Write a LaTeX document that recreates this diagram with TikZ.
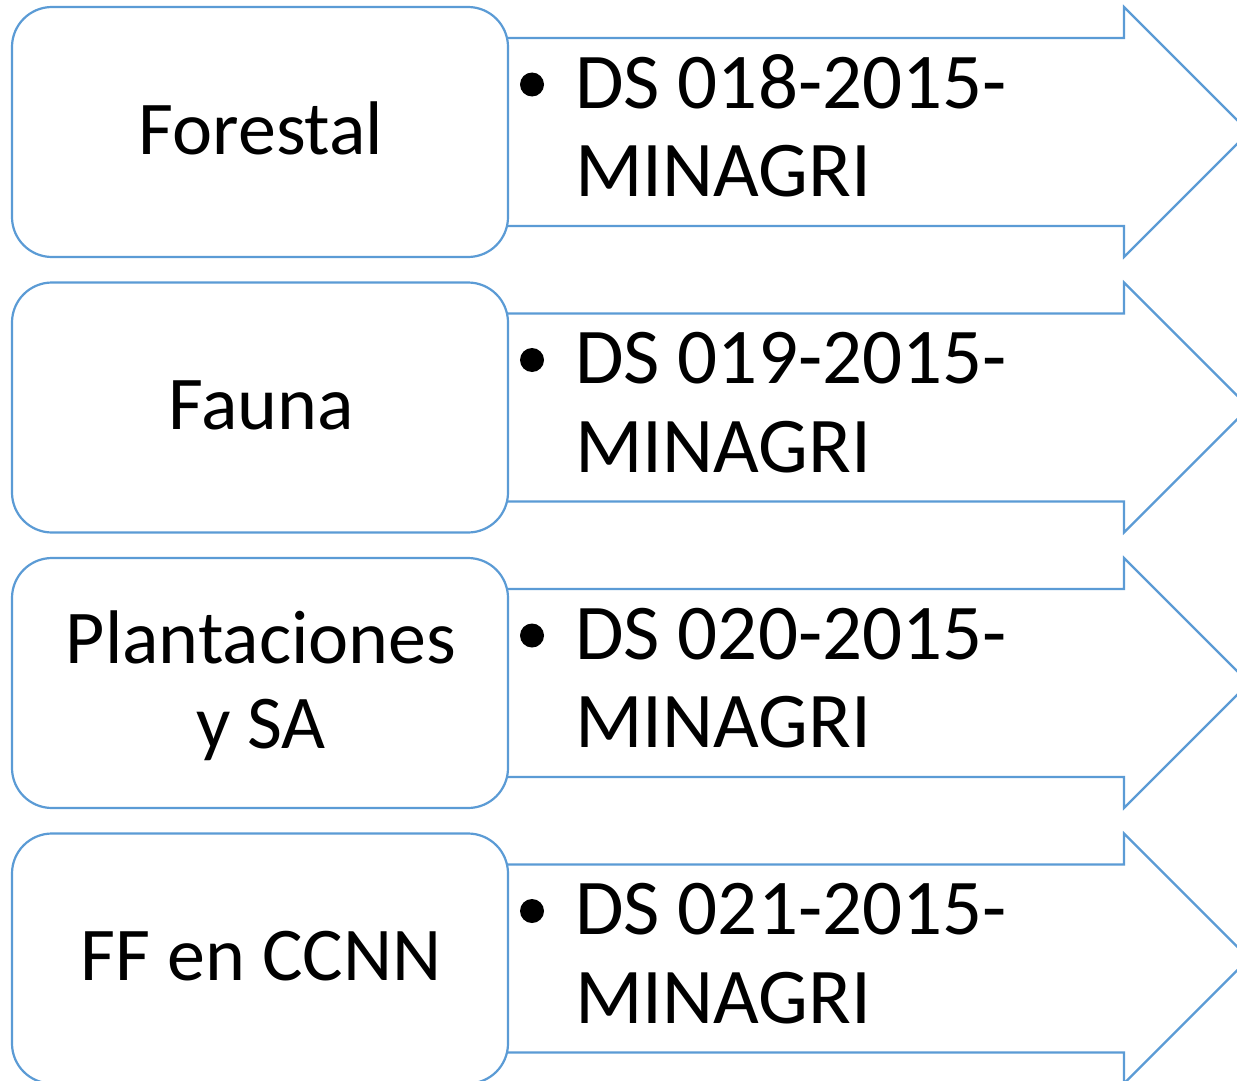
\documentclass[tikz,border=0pt]{standalone}
\usepackage{fontspec}
\setmainfont{Carlito}
\definecolor{edge}{RGB}{91,155,213}
\begin{document}
\begin{tikzpicture}[x=1pt,y=-1pt,
  box/.style={draw=edge,line width=2.2pt,fill=white,rounded corners=40pt},
  arr/.style={draw=edge,line width=2.2pt,fill=white,line join=miter},
  lbl/.style={font=\fontsize{76}{89}\selectfont,inner sep=0pt,anchor=base},
  rlbl/.style={font=\fontsize{79}{89}\selectfont,inner sep=0pt,anchor=base west},
  dot/.style={circle,fill=black,minimum size=24pt,inner sep=0pt}]
\useasboundingbox (0,0) rectangle (1237,1081);
\foreach \o in {0,275.5,551,826.5}{
  \draw[arr] (500,38+\o) -- (1124,38+\o) -- (1124,7+\o) -- (1249,132+\o) -- (1124,257+\o) -- (1124,226+\o) -- (500,226+\o);
  \draw[box] (12,7+\o) rectangle (508,257+\o);
}
% left labels
\node[lbl] (l1) at (261,154) {Forestal};
\node[lbl] (l2) at (261,429.5) {Fauna};
\node[lbl] (l3a) at (261,663) {Plantaciones};
\node[lbl] (l3b) at (261,748) {y SA};
\node[lbl] (l4) at (261,980.5) {FF en CCNN};
% right labels
\node[dot] (b1) at (532,84.5) {};
\node[rlbl] (d1) at (575,108) {DS 018-2015-};
\node[rlbl] (m1) at (575,196.5) {MINAGRI};
\node[dot] (b2) at (532,360) {};
\node[rlbl] (d2) at (575,383.5) {DS 019-2015-};
\node[rlbl] (m2) at (575,472) {MINAGRI};
\node[dot] (b3) at (532,635.5) {};
\node[rlbl] (d3) at (575,659) {DS 020-2015-};
\node[rlbl] (m3) at (575,747.5) {MINAGRI};
\node[dot] (b4) at (532,911) {};
\node[rlbl] (d4) at (575,934.5) {DS 021-2015-};
\node[rlbl] (m4) at (575,1023) {MINAGRI};
\end{tikzpicture}
\end{document}
